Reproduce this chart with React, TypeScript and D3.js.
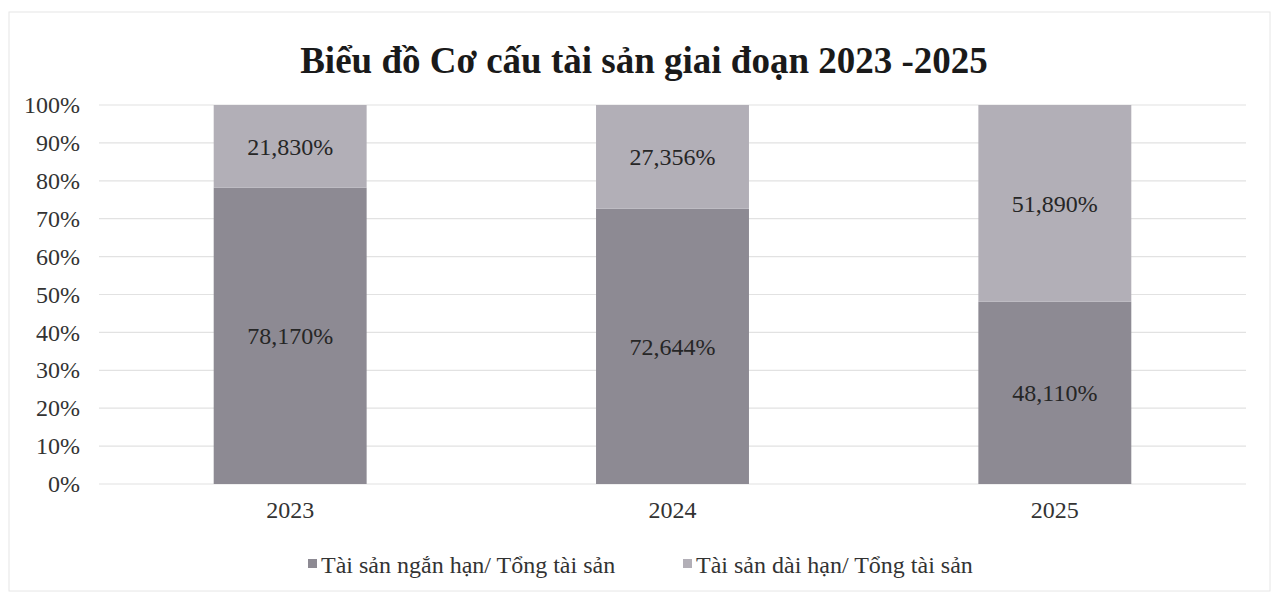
import React, { useRef, useEffect } from "react";
import * as d3 from "d3";

const years = ["2023", "2024", "2025"];
const shortTerm = [78.17, 72.644, 48.11];
const longTerm = [21.83, 27.356, 51.89];
const yTicks = [0, 10, 20, 30, 40, 50, 60, 70, 80, 90, 100];
const seriesNames = [
  "Tài sản ngắn hạn/ Tổng tài sản",
  "Tài sản dài hạn/ Tổng tài sản",
];
const colors = ["#8d8a93", "#b2afb7"];

const fmt = (v: number) => d3.format(".3f")(v).replace(".", ",") + "%";

const App = () => {
  const ref = useRef(null);

  useEffect(() => {
    const W = 1281;
    const H = 601;
    const margin = { top: 105, right: 35, bottom: 117, left: 99 };
    const width = W - margin.left - margin.right;
    const height = H - margin.top - margin.bottom;
    const font = "'Liberation Serif', 'Times New Roman', serif";

    d3.select(ref.current).selectAll("*").remove();

    const root = d3
      .select(ref.current)
      .attr("width", W)
      .attr("height", H)
      .style("font-family", font);

    root
      .append("rect")
      .attr("x", 9)
      .attr("y", 12)
      .attr("width", W - 20)
      .attr("height", H - 22)
      .attr("fill", "#fff")
      .attr("stroke", "#e6e6e6");

    root
      .append("text")
      .attr("x", 644)
      .attr("y", 73)
      .attr("text-anchor", "middle")
      .attr("font-size", 37)
      .attr("font-weight", "bold")
      .attr("fill", "#1a1a1a")
      .text("Biểu đồ Cơ cấu tài sản giai đoạn 2023 -2025");

    const svg = root
      .append("g")
      .attr("transform", `translate(${margin.left}, ${margin.top})`);

    const x = d3
      .scaleBand()
      .domain(years)
      .range([0, width])
      .paddingInner(0.6)
      .paddingOuter(0.3);

    const y = d3.scaleLinear().domain([0, 100]).range([height, 0]);

    // gridlines
    svg
      .selectAll(".grid")
      .data(yTicks)
      .enter()
      .append("line")
      .attr("x1", 0)
      .attr("x2", width)
      .attr("y1", (d) => y(d))
      .attr("y2", (d) => y(d))
      .attr("stroke", "#e2e2e2")
      .attr("stroke-width", 1.2);

    svg
      .append("g")
      .call(
        d3
          .axisLeft(y)
          .tickValues(yTicks)
          .tickSize(0)
          .tickPadding(19)
          .tickFormat((d) => `${d}%`),
      )
      .call((g) => g.select(".domain").remove())
      .selectAll("text")
      .attr("font-family", font)
      .attr("font-size", 24)
      .attr("fill", "#333");

    const stacked = years.map((yr, i) => ({
      year: yr,
      parts: [
        { y0: 0, y1: shortTerm[i], v: shortTerm[i], c: colors[0] },
        {
          y0: shortTerm[i],
          y1: shortTerm[i] + longTerm[i],
          v: longTerm[i],
          c: colors[1],
        },
      ],
    }));

    const groups = svg
      .selectAll(".bar")
      .data(stacked)
      .enter()
      .append("g")
      .attr("class", "bar");

    groups
      .selectAll("rect")
      .data((d) => d.parts.map((p) => ({ ...p, year: d.year })))
      .enter()
      .append("rect")
      .attr("x", (d) => x(d.year))
      .attr("width", x.bandwidth())
      .attr("y", (d) => y(d.y1))
      .attr("height", (d) => y(d.y0) - y(d.y1))
      .attr("fill", (d) => d.c);

    groups
      .selectAll("text")
      .data((d) => d.parts.map((p) => ({ ...p, year: d.year })))
      .enter()
      .append("text")
      .attr("x", (d) => x(d.year) + x.bandwidth() / 2)
      .attr("y", (d) => y((d.y0 + d.y1) / 2))
      .attr("dy", "0.35em")
      .attr("text-anchor", "middle")
      .attr("font-size", 24)
      .attr("fill", "#262626")
      .text((d) => fmt(d.v));

    svg
      .append("g")
      .attr("transform", `translate(0, ${height})`)
      .call(d3.axisBottom(x).tickSize(0).tickPadding(17))
      .call((g) => g.select(".domain").remove())
      .selectAll("text")
      .attr("font-family", font)
      .attr("font-size", 24)
      .attr("fill", "#333");

    // legend
    const legendX = [308, 683];
    const legend = root
      .selectAll(".legend")
      .data(seriesNames)
      .enter()
      .append("g")
      .attr("class", "legend")
      .attr("transform", (d, i) => `translate(${legendX[i]}, 566)`);

    legend
      .append("rect")
      .attr("x", 0)
      .attr("y", -7)
      .attr("width", 9)
      .attr("height", 9)
      .attr("fill", (d, i) => colors[i]);

    legend
      .append("text")
      .attr("x", 13)
      .attr("y", 0)
      .attr("dy", "0.3em")
      .attr("font-size", 24)
      .attr("fill", "#333")
      .text((d) => d);
  }, []);

  return (
    <svg
      ref={ref}
      style={{ position: "absolute", left: 0, top: 0, display: "block" }}
    ></svg>
  );
};

export default App;
